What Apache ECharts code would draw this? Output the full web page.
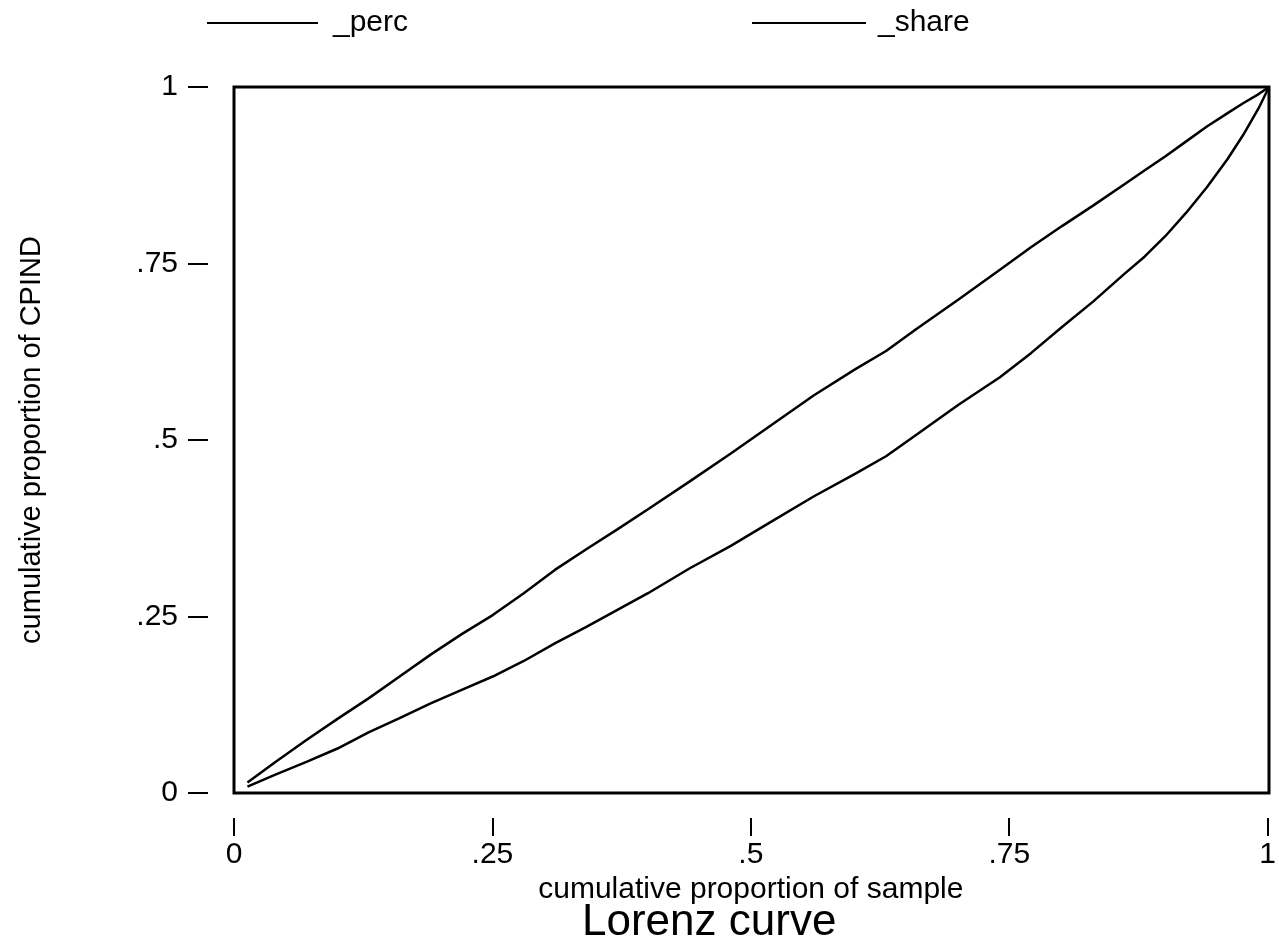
<!DOCTYPE html>
<html><head><meta charset="utf-8">
<script src="https://cdn.jsdelivr.net/npm/echarts@6/dist/echarts.min.js"></script>
<style>html,body{margin:0;padding:0;background:#fff}#c{width:1279px;height:947px}</style>
</head><body><div id="c"></div>
<script>
const sampleX = [0.013,0.04,0.07,0.10,0.13,0.16,0.19,0.22,0.25,0.28,0.31,0.34,0.37,0.40,0.44,0.48,0.52,0.56,0.60,0.63,0.66,0.70,0.74,0.77,0.80,0.83,0.86,0.88,0.90,0.92,0.94,0.96,0.975,0.99,1.0];
const percY = [0.015,0.044,0.075,0.105,0.134,0.165,0.196,0.225,0.252,0.283,0.316,0.345,0.373,0.402,0.441,0.481,0.522,0.563,0.600,0.626,0.658,0.699,0.741,0.773,0.803,0.832,0.862,0.882,0.902,0.923,0.944,0.963,0.977,0.990,1.0];
const shareY = [0.009,0.026,0.044,0.063,0.086,0.106,0.127,0.146,0.165,0.187,0.212,0.235,0.259,0.283,0.318,0.350,0.385,0.420,0.452,0.477,0.508,0.550,0.589,0.623,0.660,0.696,0.735,0.760,0.789,0.822,0.858,0.898,0.932,0.970,1.0];
const tickValues = [0,0.25,0.5,0.75,1];
const tickLabels = ['0','.25','.5','.75','1'];
const FONT = 'Liberation Sans, Arial, Helvetica, sans-serif';
function lbl(v){const i=tickValues.findIndex(t=>Math.abs(t-v)<1e-9);return i>=0?tickLabels[i]:'';}
const hiddenAxis = (gi)=>({type:'value',min:0,max:1,gridIndex:gi,show:false,splitLine:{show:false}});
const chart = echarts.init(document.getElementById('c'));
chart.setOption({
  backgroundColor:'#fff',
  animation:false,
  textStyle:{fontFamily:FONT,color:'#000'},
  grid:[
    {left:234,right:10,top:87,bottom:154,show:true,borderColor:'#000',borderWidth:3,backgroundColor:'transparent'},
    {left:234,right:10,top:87,bottom:129,show:false},
    {left:208,right:10,top:87,bottom:154,show:false}
  ],
  legend:[
    {data:['_perc'],left:207,top:8,padding:0,icon:'rect',itemWidth:111,itemHeight:2,itemGap:0,
     textStyle:{fontFamily:FONT,fontSize:30,color:'#000',padding:[0,0,0,10]}},
    {data:['_share'],left:752,top:8,padding:0,icon:'rect',itemWidth:114,itemHeight:2,itemGap:0,
     textStyle:{fontFamily:FONT,fontSize:30,color:'#000',padding:[0,0,0,7]}}
  ],
  xAxis:[
    hiddenAxis(0),
    {type:'value',gridIndex:1,min:0,max:1,interval:0.25,
    name:'cumulative proportion of sample',nameLocation:'middle',nameGap:56,
    nameTextStyle:{fontFamily:FONT,fontSize:30,color:'#000'},
    axisLine:{show:false},axisTick:{show:true,length:18,lineStyle:{color:'#000',width:2}},
    axisLabel:{margin:22,fontSize:30,color:'#000',fontFamily:FONT,formatter:lbl,showMinLabel:true,showMaxLabel:true},
    splitLine:{show:false}},
    hiddenAxis(2)
  ],
  yAxis:[
    hiddenAxis(0),
    hiddenAxis(1),
    {type:'value',gridIndex:2,min:0,max:1,interval:0.25,
    name:'cumulative proportion of CPIND',nameLocation:'middle',nameGap:162,
    nameTextStyle:{fontFamily:FONT,fontSize:29,color:'#000'},
    axisLine:{show:false},axisTick:{show:true,length:20,lineStyle:{color:'#000',width:2}},
    axisLabel:{margin:30,fontSize:30,color:'#000',fontFamily:FONT,formatter:lbl},
    splitLine:{show:false}}
  ],
  graphic:[{type:'text',left:582,top:901,style:{text:'Lorenz curve',font:'44px '+FONT,fill:'#000'}}],
  series:[
    {name:'_perc',type:'line',xAxisIndex:0,yAxisIndex:0,data:sampleX.map((x,i)=>[x,percY[i]]),showSymbol:false,symbol:'none',
     lineStyle:{color:'#000',width:2.5},itemStyle:{color:'#000'}},
    {name:'_share',type:'line',xAxisIndex:0,yAxisIndex:0,data:sampleX.map((x,i)=>[x,shareY[i]]),showSymbol:false,symbol:'none',
     lineStyle:{color:'#000',width:2.5},itemStyle:{color:'#000'}}
  ]
});
</script></body></html>
